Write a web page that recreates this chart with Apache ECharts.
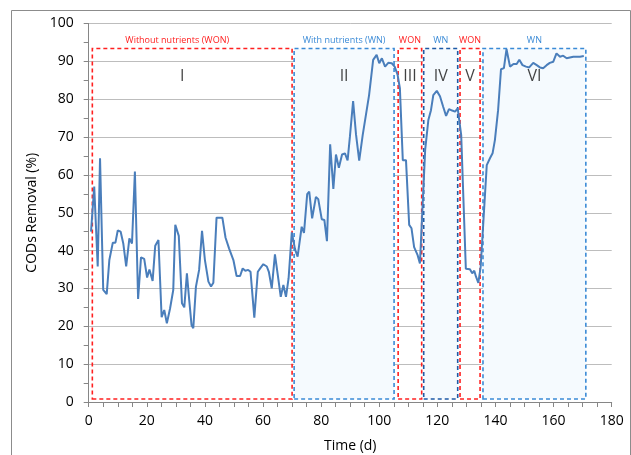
<!DOCTYPE html>
<html>
<head>
<meta charset="utf-8">
<script src="https://cdn.jsdelivr.net/npm/echarts@6/dist/echarts.min.js"></script>
<style>
  html, body { margin: 0; padding: 0; background: #fff; }
  #chart { width: 631px; height: 455px; }
</style>
</head>
<body>
<div id="chart"></div>
<script>
// time (d) and CODs removal (%)
const days = [
  0.8, 1.9, 3.1, 3.9, 5.0, 6.2, 7.1, 8.3, 9.2, 10.0, 11.0, 11.9, 12.9, 14.0, 14.9, 15.9,
  17.0, 18.0, 19.1, 20.1, 20.9, 22.0, 22.9, 24.0, 25.1, 26.0, 26.9, 28.0, 29.1, 29.8, 31.0,
  32.1, 32.9, 33.8, 34.6, 35.4, 36.0, 36.9, 38.0, 39.0, 40.0, 41.2, 42.1, 42.9, 44.0, 46.0,
  47.1, 48.3, 49.8, 50.9, 52.1, 53.0, 53.9, 54.9, 55.7, 57.0, 58.2, 59.2, 60.1, 61.3, 62.0,
  63.0, 64.1, 65.0, 66.1, 67.0, 67.9, 68.8, 69.9, 71.0, 71.9, 73.3, 74.1, 75.2, 75.9, 76.9,
  78.2, 79.0, 80.2, 81.1, 82.0, 83.1, 84.2, 85.1, 86.1, 87.2, 88.2, 89.1, 89.9, 91.0, 92.0,
  93.1, 94.3, 95.4, 96.5, 97.9, 99.1, 100.0, 100.9, 102.0, 103.1, 104.3, 105.3, 106.3, 107.1,
  108.1, 109.2, 110.3, 111.1, 112.0, 113.2, 114.0, 115.8, 116.9, 117.8, 118.6, 119.8, 120.9,
  122.0, 123.0, 124.0, 125.1, 126.1, 127.0, 128.2, 129.8, 131.2, 132.0, 132.7, 133.3, 134.1,
  134.9, 137.0, 138.1, 139.0, 139.8, 140.9, 141.9, 142.9, 143.8, 145.0, 146.2, 147.3, 148.2,
  149.3, 150.5, 151.6, 153.0, 154.2, 155.3, 156.4, 157.6, 158.7, 159.9, 161.0, 162.2, 163.3,
  164.5, 165.6, 166.8, 167.9, 169.1, 170.4
]
const removal = [
  45.0, 56.9, 35.8, 64.4, 29.6, 28.5, 37.5, 42.1, 42.1, 45.3, 45.0, 41.9, 35.8, 43.2, 41.9, 60.9,
  27.2, 38.2, 37.8, 32.9, 35.0, 32.0, 41.3, 42.8, 22.4, 24.3, 20.8, 24.7, 29.6, 46.8, 43.9,
  26.1, 25.0, 34.0, 26.9, 20.3, 19.5, 30.4, 34.9, 45.2, 37.5, 31.8, 30.5, 31.5, 48.7, 48.7,
  43.4, 40.6, 37.5, 33.3, 33.3, 35.3, 34.7, 34.9, 34.4, 22.3, 34.4, 35.5, 36.4, 35.8, 34.4,
  30.0, 39.0, 34.0, 27.8, 30.9, 27.8, 32.7, 44.8, 40.4, 38.4, 46.3, 44.7, 54.9, 55.6, 48.5,
  54.2, 53.6, 48.3, 48.1, 42.5, 68.1, 56.3, 65.4, 61.9, 65.4, 65.7, 63.8, 70.1, 79.5, 70.7,
  63.8, 70.5, 75.8, 81.1, 90.4, 91.7, 89.5, 90.8, 88.6, 89.6, 89.5, 88.6, 86.5, 82.9,
  63.9, 63.9, 46.8, 45.9, 40.9, 38.8, 36.6, 66.6, 74.5, 77.1, 81.1, 82.2, 80.8,
  78.0, 75.6, 77.4, 77.0, 76.7, 77.6, 70.5, 35.2, 35.1, 34.0, 34.7, 33.1, 31.5,
  35.7, 62.6, 64.4, 65.7, 69.2, 77.1, 87.9, 88.2, 93.2, 88.6, 89.3, 89.3, 90.4,
  89.0, 88.6, 88.4, 89.6, 89.0, 88.4, 88.2, 89.0, 89.6, 89.9, 92.1, 91.2, 91.5,
  90.8, 91.0, 91.2, 91.2, 91.2, 91.4
]

// operating phases
const phaseStart = [1.25, 70.7, 106.5, 115.3, 127.8, 135.7]
const phaseEnd = [70.0, 105.1, 114.6, 127.0, 134.7, 171.1]
const phaseMode = ['WON', 'WN', 'WON', 'WN', 'WON', 'WN']
const phaseTitle = ['Without nutrients (WON)', 'With nutrients (WN)', 'WON', 'WN', 'WON', 'WN']
const phaseNumeral = ['I', 'II', 'III', 'IV', 'V', 'VI']

// axis tick labels
const xTicks = [0, 20, 40, 60, 80, 100, 120, 140, 160, 180]
const yTicks = [0, 10, 20, 30, 40, 50, 60, 70, 80, 90, 100]

const font = '"Open Sans", "Noto Sans", sans-serif'
const red = '#ff2020'
const blue = '#3a8ad6'
const darkBlue = '#1e5aa6'
const axisGrey = '#868686'
const boxBottom = 0.8
const boxTop = 93.4
const numeralY = 86

const areas = phaseStart.map((start, i) => {
  const won = phaseMode[i] === 'WON'
  const edge = won ? red : (i === 3 ? darkBlue : blue)
  return [{
    name: phaseTitle[i],
    xAxis: start,
    yAxis: boxBottom,
    itemStyle: {
      color: won ? 'rgba(255,255,255,0)' : '#f5fafe',
      borderColor: edge,
      borderWidth: 1.6,
      borderType: [4, 3]
    },
    label: {
      color: won ? red : blue,
      offset: i === 0 ? [-15, 0] : [0, 0]
    }
  }, {
    xAxis: phaseEnd[i],
    yAxis: boxTop
  }]
})

const numerals = phaseNumeral.map((n, i) => ({
  name: n,
  value: [(phaseStart[i] + phaseEnd[i]) / 2, numeralY],
  label: { offset: i === 0 ? [-10, 0] : [0, 0] }
}))

const chart = echarts.init(document.getElementById('chart'))
chart.setOption({
  animation: false,
  backgroundColor: '#fff',
  grid: {
    left: 88.7,
    right: 19.3,
    top: 23.5,
    bottom: 53,
    containLabel: false,
    outerBoundsMode: 'none'
  },
  graphic: [{
    type: 'rect',
    silent: true,
    shape: { x: 11.5, y: 10.5, width: 619, height: 460 },
    style: { fill: 'none', stroke: '#8c8c8c', lineWidth: 1 }
  }],
  xAxis: {
    type: 'value',
    min: xTicks[0],
    max: xTicks[xTicks.length - 1],
    interval: xTicks[1] - xTicks[0],
    name: 'Time (d)',
    nameLocation: 'middle',
    nameGap: 37,
    nameTextStyle: { fontFamily: font, fontSize: 14, color: '#000' },
    axisLine: { show: true, lineStyle: { color: axisGrey } },
    axisTick: { show: true, length: 5, lineStyle: { color: axisGrey } },
    minorTick: { show: true, splitNumber: 4, length: 5, lineStyle: { color: axisGrey } },
    axisLabel: { margin: 12, fontFamily: font, fontSize: 14, color: '#000' },
    splitLine: { show: false }
  },
  yAxis: {
    type: 'value',
    min: yTicks[0],
    max: yTicks[yTicks.length - 1],
    interval: yTicks[1] - yTicks[0],
    name: 'CODs Removal (%)',
    nameLocation: 'middle',
    nameRotate: 90,
    nameGap: 49,
    nameTextStyle: { fontFamily: font, fontSize: 14, color: '#000' },
    axisLine: { show: true, lineStyle: { color: axisGrey } },
    axisTick: { show: true, length: 5, lineStyle: { color: axisGrey } },
    minorTick: { show: true, splitNumber: 2, length: 5, lineStyle: { color: axisGrey } },
    axisLabel: { margin: 15, fontFamily: font, fontSize: 14, color: '#000' },
    splitLine: { show: true, lineStyle: { color: '#bdbdbd' } }
  },
  series: [{
    type: 'line',
    z: 1,
    data: [],
    silent: true,
    markArea: {
      silent: true,
      label: {
        show: true,
        position: 'top',
        distance: 3,
        fontFamily: font,
        fontSize: 9
      },
      data: areas
    }
  }, {
    type: 'scatter',
    z: 2,
    silent: true,
    symbolSize: 1,
    itemStyle: { color: 'rgba(0,0,0,0)' },
    label: {
      show: true,
      position: 'inside',
      formatter: '{b}',
      fontFamily: font,
      fontSize: 16,
      color: '#111'
    },
    data: numerals
  }, {
    type: 'line',
    z: 3,
    silent: true,
    symbol: 'none',
    lineStyle: { color: '#4a7ebb', width: 2 },
    data: days.map((d, i) => [d, removal[i]])
  }]
})
</script>
</body>
</html>
